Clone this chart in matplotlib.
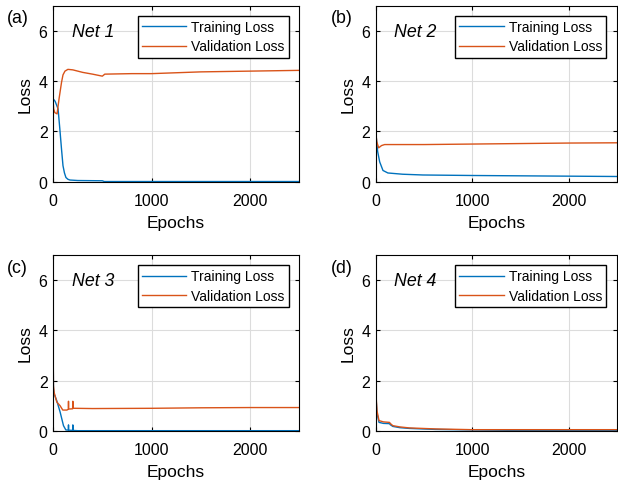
import numpy as np
import matplotlib
matplotlib.use("Agg")
import matplotlib.pyplot as plt

plt.rcParams['font.family'] = ['Liberation Sans', 'DejaVu Sans']

# (epoch, loss) pairs
net1_train_ep = [0, 20, 50, 68, 85, 100, 115, 130, 150, 170, 250, 500, 520, 1000, 2500]
net1_train = [3.3, 3.2, 2.9, 2.1, 1.3, 0.64, 0.35, 0.17, 0.1, 0.07, 0.05, 0.04, 0.01, 0.01, 0.01]
net1_val_ep = [0, 5, 17, 40, 60, 85, 100, 120, 150, 200, 300, 400, 500, 525, 800, 1000, 1500, 2000, 2500]
net1_val = [3.2, 2.9, 2.75, 2.7, 3.3, 3.95, 4.25, 4.4, 4.47, 4.45, 4.35, 4.28, 4.2, 4.28, 4.3, 4.3, 4.37, 4.4, 4.43]

net2_train_ep = [0, 7, 20, 41, 75, 126, 280, 490, 1000, 2500]
net2_train = [2.0, 1.7, 1.2, 0.79, 0.45, 0.35, 0.3, 0.27, 0.25, 0.21]
net2_val_ep = [0, 10, 30, 60, 92, 500, 1000, 1500, 2000, 2500]
net2_val = [2.0, 1.6, 1.35, 1.44, 1.48, 1.48, 1.5, 1.52, 1.54, 1.55]

net3_train_ep = [0, 3, 10, 37, 71, 105, 129, 154, 156, 158, 198, 200, 202, 250, 2500]
net3_train = [3.3, 1.7, 1.47, 1.2, 0.75, 0.21, 0.04, 0.03, 0.24, 0.03, 0.02, 0.24, 0.02, 0.01, 0.01]
net3_val_ep = [0, 3, 10, 37, 71, 98, 139, 154, 156, 158, 198, 200, 202, 220, 400, 1000, 1500, 2000, 2500]
net3_val = [3.3, 1.8, 1.53, 1.15, 1.0, 0.83, 0.83, 0.86, 1.18, 0.87, 0.88, 1.18, 0.9, 0.9, 0.89, 0.9, 0.92, 0.93, 0.93]

net4_train_ep = [0, 5, 13, 34, 80, 143, 150, 177, 250, 348, 620, 1000, 1500, 2500]
net4_train = [2.0, 1.2, 0.7, 0.34, 0.3, 0.29, 0.25, 0.18, 0.13, 0.1, 0.06, 0.04, 0.02, 0.01]
net4_val_ep = [0, 5, 13, 34, 80, 143, 150, 177, 250, 348, 620, 1000, 1500, 2500]
net4_val = [2.0, 1.3, 0.8, 0.41, 0.36, 0.34, 0.3, 0.21, 0.16, 0.12, 0.08, 0.05, 0.05, 0.05]

panels = [
    ("(a)", "Net 1", net1_train_ep, net1_train, net1_val_ep, net1_val),
    ("(b)", "Net 2", net2_train_ep, net2_train, net2_val_ep, net2_val),
    ("(c)", "Net 3", net3_train_ep, net3_train, net3_val_ep, net3_val),
    ("(d)", "Net 4", net4_train_ep, net4_train, net4_val_ep, net4_val),
]

blue = "#0072BD"
orange = "#D95319"

fig = plt.figure(figsize=(6.18, 4.81), dpi=100)
rects = [
    [0.086, 0.620, 0.398, 0.366],
    [0.608, 0.620, 0.390, 0.366],
    [0.086, 0.102, 0.398, 0.366],
    [0.608, 0.102, 0.390, 0.366],
]

for rect, (tag, name, tx, ty, vx, vy) in zip(rects, panels):
    ax = fig.add_axes(rect)
    ax.plot(tx, ty, color=blue, lw=1.0, label="Training Loss")
    ax.plot(vx, vy, color=orange, lw=1.0, label="Validation Loss")
    ax.set_xlim(0, 2500)
    ax.set_ylim(0, 7)
    ax.set_xticks([0, 1000, 2000])
    ax.set_yticks([0, 2, 4, 6])
    ax.grid(True, color="#dcdcdc", lw=0.8)
    ax.set_axisbelow(True)
    ax.tick_params(direction="in", length=3, labelsize=11.5, top=True, right=True,
                   labeltop=False, labelright=False)
    ax.tick_params(axis="x", pad=8)
    ax.tick_params(axis="y", pad=4)
    for s in ax.spines.values():
        s.set_linewidth(0.8)
    ax.set_xlabel("Epochs", fontsize=12.5, labelpad=5)
    ax.set_ylabel("Loss", fontsize=12.5, labelpad=4)
    ax.legend(loc="upper right", fontsize=10, frameon=True, fancybox=False,
              edgecolor="black", framealpha=1, borderpad=0.3, handlelength=3.2,
              handletextpad=0.36, labelspacing=0.37, borderaxespad=0.75)
    ax.text(0.077, 0.83, name, transform=ax.transAxes, fontsize=12.8, style="italic")
    ax.text(-0.187, 0.905, tag, transform=ax.transAxes, fontsize=12.8)

fig.savefig("out.png", dpi=100)
